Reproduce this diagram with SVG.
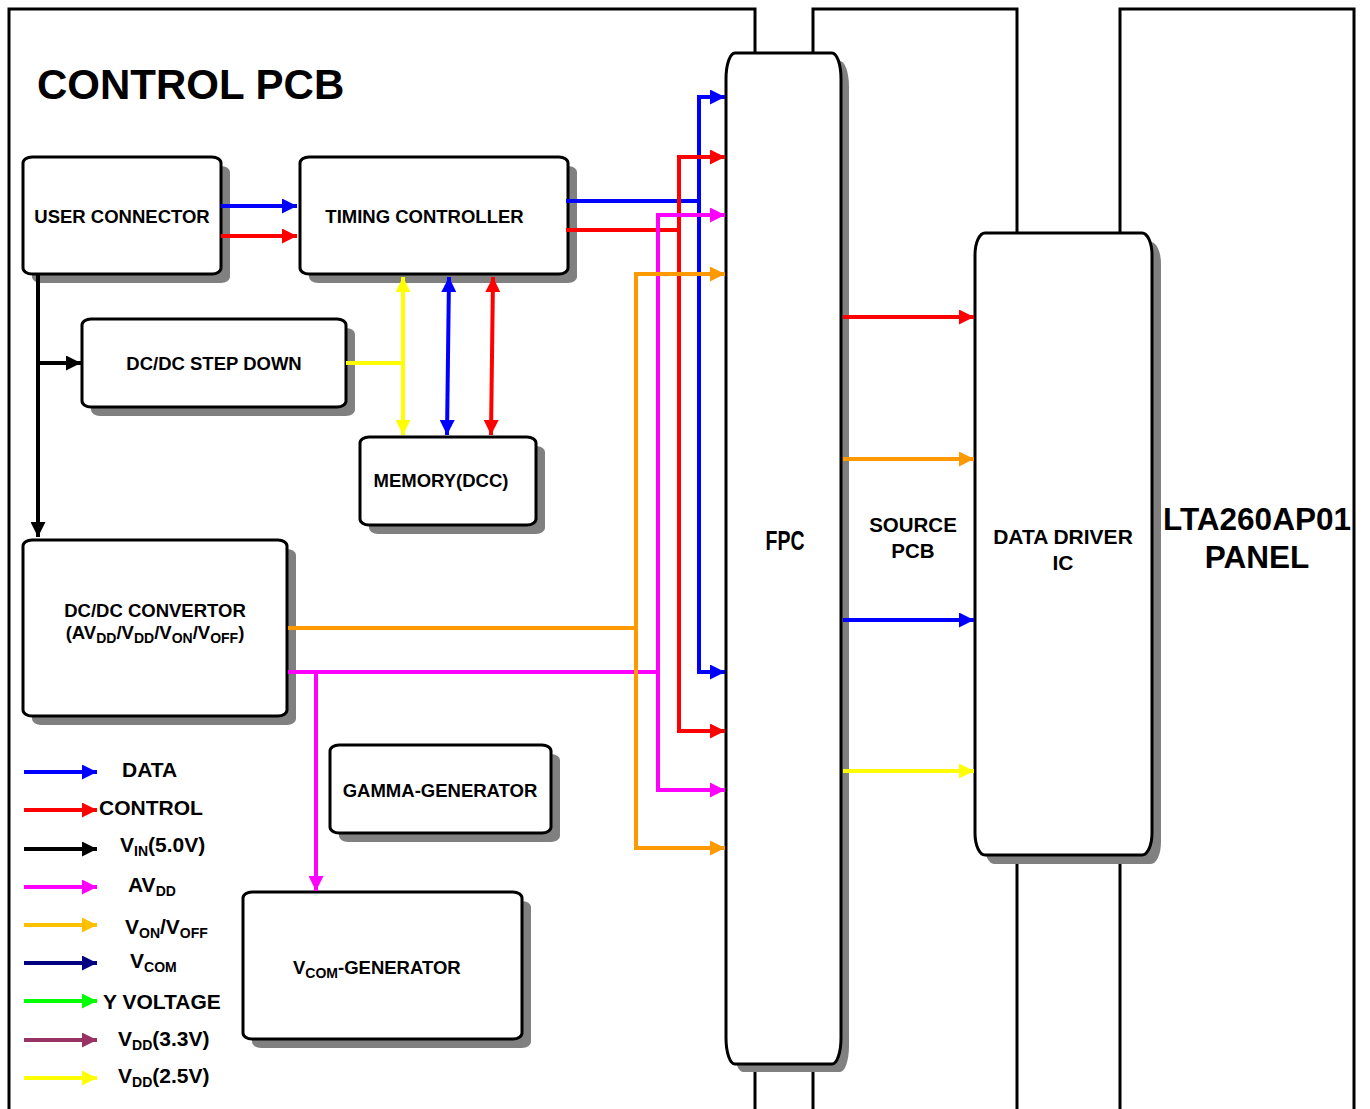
<svg xmlns="http://www.w3.org/2000/svg" width="1370" height="1109" viewBox="0 0 1370 1109">
<style>
.frame{fill:none;stroke:#000;stroke-width:3}
.box{fill:#fff;stroke:#000;stroke-width:3}
.sh{fill:#808080}
.t{font-family:"Liberation Sans",Arial,sans-serif;font-weight:bold;font-size:18.5px;fill:#000}
.lg{font-family:"Liberation Sans",Arial,sans-serif;font-weight:bold;font-size:21px;fill:#000}
.big{font-family:"Liberation Sans",Arial,sans-serif;font-weight:bold;font-size:31.5px;fill:#000}
.mid{font-family:"Liberation Sans",Arial,sans-serif;font-weight:bold;font-size:20.5px;fill:#000}
.sub{font-size:14px}
.c{fill:none;stroke-width:4}
.blue{stroke:#0000FF}.red{stroke:#FF0000}.blk{stroke:#000}.mag{stroke:#FF00FF}.org{stroke:#FF9900}
.yel{stroke:#FFFF00}.gold{stroke:#FFC000}.navy{stroke:#000080}.grn{stroke:#00FF00}.plum{stroke:#993366}
</style>
<defs>
<marker id="aB" markerUnits="userSpaceOnUse" markerWidth="15" markerHeight="15" refX="15" refY="7.5" orient="auto-start-reverse"><path d="M0,0 L15,7.5 L0,15 Z" fill="#0000FF"/></marker>
<marker id="aR" markerUnits="userSpaceOnUse" markerWidth="15" markerHeight="15" refX="15" refY="7.5" orient="auto-start-reverse"><path d="M0,0 L15,7.5 L0,15 Z" fill="#FF0000"/></marker>
<marker id="aK" markerUnits="userSpaceOnUse" markerWidth="15" markerHeight="15" refX="15" refY="7.5" orient="auto-start-reverse"><path d="M0,0 L15,7.5 L0,15 Z" fill="#000"/></marker>
<marker id="aM" markerUnits="userSpaceOnUse" markerWidth="15" markerHeight="15" refX="15" refY="7.5" orient="auto-start-reverse"><path d="M0,0 L15,7.5 L0,15 Z" fill="#FF00FF"/></marker>
<marker id="aO" markerUnits="userSpaceOnUse" markerWidth="15" markerHeight="15" refX="15" refY="7.5" orient="auto-start-reverse"><path d="M0,0 L15,7.5 L0,15 Z" fill="#FF9900"/></marker>
<marker id="aY" markerUnits="userSpaceOnUse" markerWidth="15" markerHeight="15" refX="15" refY="7.5" orient="auto-start-reverse"><path d="M0,0 L15,7.5 L0,15 Z" fill="#FFFF00"/></marker>
<marker id="aG" markerUnits="userSpaceOnUse" markerWidth="15" markerHeight="15" refX="15" refY="7.5" orient="auto-start-reverse"><path d="M0,0 L15,7.5 L0,15 Z" fill="#FFC000"/></marker>
<marker id="aN" markerUnits="userSpaceOnUse" markerWidth="15" markerHeight="15" refX="15" refY="7.5" orient="auto-start-reverse"><path d="M0,0 L15,7.5 L0,15 Z" fill="#000080"/></marker>
<marker id="aGr" markerUnits="userSpaceOnUse" markerWidth="15" markerHeight="15" refX="15" refY="7.5" orient="auto-start-reverse"><path d="M0,0 L15,7.5 L0,15 Z" fill="#00FF00"/></marker>
<marker id="aP" markerUnits="userSpaceOnUse" markerWidth="15" markerHeight="15" refX="15" refY="7.5" orient="auto-start-reverse"><path d="M0,0 L15,7.5 L0,15 Z" fill="#993366"/></marker>
</defs>
<rect width="1370" height="1109" fill="#fff"/>

<g id="control-pcb">
<path class="frame" d="M9,1109 V9 H755 V1109"/>
<text x="37" y="99" font-family="Liberation Sans, Arial, sans-serif" font-weight="bold" font-size="42">CONTROL PCB</text>
</g>
<g id="source-pcb">
<path class="frame" d="M813,1109 V9 H1017 V1109"/>
<text class="mid" text-anchor="middle" x="913" y="532">SOURCE</text>
<text class="mid" text-anchor="middle" x="913" y="558">PCB</text>
</g>
<g id="panel">
<path class="frame" d="M1120,1109 V9 H1354 V1109"/>
<text class="big" text-anchor="middle" x="1257" y="530">LTA260AP01</text>
<text class="big" text-anchor="middle" x="1257" y="568">PANEL</text>
</g>

<g id="user-connector">
<rect class="sh" x="32" y="166" width="198" height="117" rx="9" ry="6"/>
<rect class="box" x="23" y="157" width="198" height="117" rx="9" ry="6"/>
<text class="t" text-anchor="middle" x="122" y="222.5">USER CONNECTOR</text>
</g>
<g id="timing-controller">
<rect class="sh" x="309" y="166" width="268" height="117" rx="9" ry="6"/>
<rect class="box" x="300" y="157" width="268" height="117" rx="9" ry="6"/>
<text class="t" text-anchor="middle" x="424.5" y="223">TIMING CONTROLLER</text>
</g>
<g id="dcdc-step-down">
<rect class="sh" x="91" y="328" width="264" height="88" rx="9" ry="6"/>
<rect class="box" x="82" y="319" width="264" height="88" rx="9" ry="6"/>
<text class="t" text-anchor="middle" x="214" y="370">DC/DC STEP DOWN</text>
</g>
<g id="memory">
<rect class="sh" x="369" y="446" width="176" height="88" rx="9" ry="6"/>
<rect class="box" x="360" y="437" width="176" height="88" rx="9" ry="6"/>
<text class="t" text-anchor="middle" x="441" y="487">MEMORY(DCC)</text>
</g>
<g id="dcdc-convertor">
<rect class="sh" x="32" y="549" width="264" height="176" rx="9" ry="6"/>
<rect class="box" x="23" y="540" width="264" height="176" rx="9" ry="6"/>
<text class="t" text-anchor="middle" x="155" y="617">DC/DC CONVERTOR</text>
<text class="t" text-anchor="middle" x="155" y="639">(AV<tspan class="sub" dy="4">DD</tspan><tspan dy="-4">/V</tspan><tspan class="sub" dy="4">DD</tspan><tspan dy="-4">/V</tspan><tspan class="sub" dy="4">ON</tspan><tspan dy="-4">/V</tspan><tspan class="sub" dy="4">OFF</tspan><tspan dy="-4">)</tspan></text>
</g>
<g id="gamma-generator">
<rect class="sh" x="339" y="754" width="221" height="88" rx="9" ry="6"/>
<rect class="box" x="330" y="745" width="221" height="88" rx="9" ry="6"/>
<text class="t" text-anchor="middle" x="440" y="797">GAMMA-GENERATOR</text>
</g>
<g id="vcom-generator">
<rect class="sh" x="252" y="901" width="279" height="147" rx="9" ry="6"/>
<rect class="box" x="243" y="892" width="279" height="147" rx="9" ry="6"/>
<text class="t" x="293" y="974">V<tspan class="sub" dy="4">COM</tspan><tspan dy="-4">-GENERATOR</tspan></text>
</g>
<g id="fpc">
<path class="sh" d="M743,61 H840 A9,26 0 0 1 849,87 V1046 A9,26 0 0 1 840,1072 H743 A9,26 0 0 1 734,1046 V87 A9,26 0 0 1 743,61 Z"/>
<path class="box" d="M735,53 H832 A9,26 0 0 1 841,79 V1038 A9,26 0 0 1 832,1064 H735 A9,26 0 0 1 726,1038 V79 A9,26 0 0 1 735,53 Z"/>
<text x="785" y="550" text-anchor="middle" font-family="Liberation Sans, Arial, sans-serif" font-weight="bold" font-size="28" textLength="39" lengthAdjust="spacingAndGlyphs">FPC</text>
</g>
<g id="data-driver-ic">
<path class="sh" d="M994,242 H1151 A10,22 0 0 1 1161,264 V842 A10,22 0 0 1 1151,864 H994 A10,22 0 0 1 984,842 V264 A10,22 0 0 1 994,242 Z"/>
<path class="box" d="M985,233 H1142 A10,22 0 0 1 1152,255 V833 A10,22 0 0 1 1142,855 H985 A10,22 0 0 1 975,833 V255 A10,22 0 0 1 985,233 Z"/>
<text class="lg" text-anchor="middle" x="1063" y="544">DATA DRIVER</text>
<text class="lg" text-anchor="middle" x="1063" y="570">IC</text>
</g>

<g id="connectors">
<path class="c blue" d="M221,206 H297" marker-end="url(#aB)"/>
<path class="c red" d="M221,236 H297" marker-end="url(#aR)"/>
<path class="c blk" d="M38,275 V537" marker-end="url(#aK)"/>
<path class="c blk" d="M38,363 H81" marker-end="url(#aK)"/>
<path class="c yel" d="M346,363 H403"/>
<path class="c yel" d="M403,277 V435" marker-start="url(#aY)" marker-end="url(#aY)"/>
<path class="c blue" d="M449,277 L447,435" marker-start="url(#aB)" marker-end="url(#aB)"/>
<path class="c red" d="M493,277 L491,435" marker-start="url(#aR)" marker-end="url(#aR)"/>
<path class="c blue" d="M566,201 H699 V97 H725" marker-end="url(#aB)"/>
<path class="c blue" d="M699,201 V672 H725" marker-end="url(#aB)"/>
<path class="c red" d="M566,230 H679 V157 H725" marker-end="url(#aR)"/>
<path class="c red" d="M679,230 V731 H725" marker-end="url(#aR)"/>
<path class="c mag" d="M288,672 H658 V215 H725" marker-end="url(#aM)"/>
<path class="c mag" d="M658,672 V790 H725" marker-end="url(#aM)"/>
<path class="c mag" d="M316,672 V891" marker-end="url(#aM)"/>
<path class="c org" d="M288,628 H636 V274 H725" marker-end="url(#aO)"/>
<path class="c org" d="M636,628 V848 H725" marker-end="url(#aO)"/>
<path class="c red" d="M843,317 H974" marker-end="url(#aR)"/>
<path class="c org" d="M843,459 H974" marker-end="url(#aO)"/>
<path class="c blue" d="M843,620 H974" marker-end="url(#aB)"/>
<path class="c yel" d="M843,771 H974" marker-end="url(#aY)"/>
</g>

<g id="legend">
<path class="c blue" d="M24,772 H97" marker-end="url(#aB)"/>
<path class="c red" d="M24,810 H97" marker-end="url(#aR)"/>
<path class="c blk" d="M24,849 H97" marker-end="url(#aK)"/>
<path class="c mag" d="M24,887 H97" marker-end="url(#aM)"/>
<path class="c gold" d="M24,925 H97" marker-end="url(#aG)"/>
<path class="c navy" d="M24,963 H97" marker-end="url(#aN)"/>
<path class="c grn" d="M24,1001 H97" marker-end="url(#aGr)"/>
<path class="c plum" d="M24,1040 H97" marker-end="url(#aP)"/>
<path class="c yel" d="M24,1078 H97" marker-end="url(#aY)"/>
<text class="lg" x="122" y="777">DATA</text>
<text class="lg" x="99" y="815">CONTROL</text>
<text class="lg" x="120" y="852">V<tspan class="sub" dy="4">IN</tspan><tspan dy="-4">(5.0V)</tspan></text>
<text class="lg" x="128" y="892">AV<tspan class="sub" dy="4">DD</tspan></text>
<text class="lg" x="125" y="934">V<tspan class="sub" dy="4">ON</tspan><tspan dy="-4">/V</tspan><tspan class="sub" dy="4">OFF</tspan></text>
<text class="lg" x="130" y="968">V<tspan class="sub" dy="4">COM</tspan></text>
<text class="lg" x="103" y="1009">Y VOLTAGE</text>
<text class="lg" x="118" y="1046">V<tspan class="sub" dy="4">DD</tspan><tspan dy="-4">(3.3V)</tspan></text>
<text class="lg" x="118" y="1083">V<tspan class="sub" dy="4">DD</tspan><tspan dy="-4">(2.5V)</tspan></text>
</g>
</svg>
